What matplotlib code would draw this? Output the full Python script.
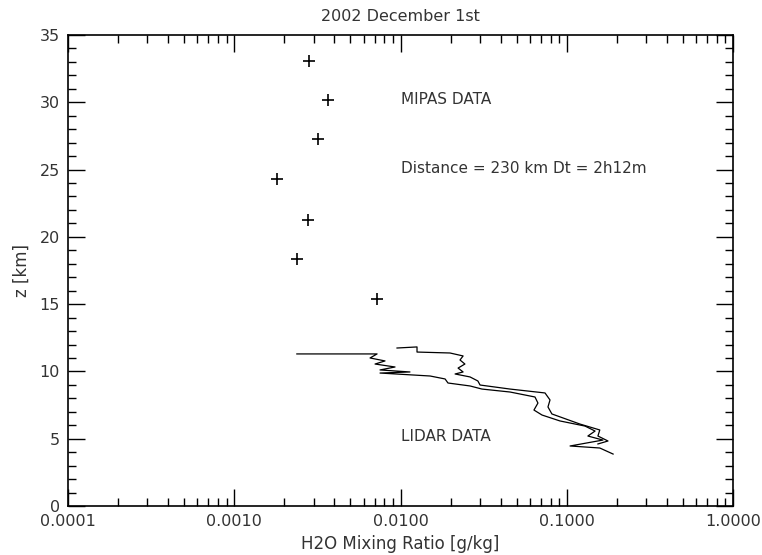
import matplotlib
matplotlib.use("Agg")
import matplotlib.pyplot as plt
from matplotlib.ticker import FixedLocator, LogLocator, NullFormatter, FixedFormatter

# MIPAS data
mipas_x = [0.00282, 0.00367, 0.00319, 0.00181, 0.00278, 0.00238, 0.00722]
mipas_z = [33.07, 30.17, 27.27, 24.30, 21.25, 18.38, 15.40]

# LIDAR profile 1
lidar1_x = [0.00238, 0.00723, 0.00656, 0.00807, 0.00703, 0.00927, 0.00753, 0.0114,
            0.00753, 0.01507, 0.01854, 0.0193, 0.0262, 0.0309, 0.0456, 0.0644,
            0.0671, 0.0635, 0.0710, 0.0910, 0.1288, 0.148, 0.134, 0.165,
            0.1047, 0.158, 0.190]
lidar1_z = [11.30, 11.30, 11.00, 10.78, 10.55, 10.33, 10.11, 9.96,
            9.88, 9.66, 9.44, 9.14, 8.92, 8.69, 8.47, 8.10,
            7.65, 7.13, 6.76, 6.32, 5.94, 5.57, 5.20, 4.90,
            4.46, 4.31, 3.86]

# LIDAR profile 2
lidar2_x = [0.00953, 0.01257, 0.01257, 0.01985, 0.0238, 0.0228, 0.0244, 0.0222,
            0.0238, 0.0213, 0.0262, 0.0292, 0.0301, 0.0456, 0.0740, 0.0793,
            0.0771, 0.0814, 0.120, 0.158, 0.154, 0.177, 0.154]
lidar2_z = [11.74, 11.82, 11.44, 11.37, 11.15, 10.85, 10.55, 10.25,
            9.96, 9.81, 9.59, 9.29, 8.99, 8.69, 8.40, 7.88,
            7.36, 6.84, 6.09, 5.65, 5.20, 4.83, 4.61]

x_ticks = [0.0001, 0.001, 0.01, 0.1, 1.0]
x_tick_labels = ["0.0001", "0.0010", "0.0100", "0.1000", "1.0000"]
y_ticks = [0, 5, 10, 15, 20, 25, 30, 35]

title = "2002 December 1st"
xlabel = "H2O Mixing Ratio [g/kg]"
ylabel = "z [km]"

tc = "#333333"

fig = plt.figure(figsize=(7.62, 5.55), dpi=100)
ax = fig.add_axes([68/762, 1-506/555, (733-68)/762, (506-35)/555])

ax.plot(mipas_x, mipas_z, linestyle="none", marker="+", color="black",
        markersize=9, markeredgewidth=1.2)
ax.plot(lidar1_x, lidar1_z, color="black", linewidth=0.9)
ax.plot(lidar2_x, lidar2_z, color="black", linewidth=0.9)

ax.set_xscale("log")
ax.set_xlim(0.0001, 1.0)
ax.set_ylim(0, 35)

ax.xaxis.set_major_locator(FixedLocator(x_ticks))
ax.xaxis.set_major_formatter(FixedFormatter(x_tick_labels))
ax.xaxis.set_minor_locator(LogLocator(base=10, subs=range(2, 10), numticks=20))
ax.xaxis.set_minor_formatter(NullFormatter())
ax.yaxis.set_major_locator(FixedLocator(y_ticks))
ax.yaxis.set_minor_locator(FixedLocator(range(0, 36)))

ax.tick_params(which="both", direction="in", top=True, right=True,
               colors="black", labelcolor=tc, labelsize=11.5, width=1.0)
ax.tick_params(which="major", length=12, pad=6)
ax.tick_params(which="minor", length=6)
for s in ax.spines.values():
    s.set_linewidth(1.2)

ax.set_title(title, fontsize=11.5, color=tc, pad=10)
ax.set_xlabel(xlabel, fontsize=12, color=tc, labelpad=4)
ax.set_ylabel(ylabel, fontsize=12, color=tc, labelpad=6)

ax.text(0.0101, 30.2, "MIPAS DATA", fontsize=11, color=tc, va="center", ha="left")
ax.text(0.0101, 25.1, "Distance = 230 km Dt = 2h12m", fontsize=11, color=tc,
        va="center", ha="left")
ax.text(0.0101, 5.2, "LIDAR DATA", fontsize=11, color=tc, va="center", ha="left")

fig.savefig("out.png", dpi=100, facecolor="white")
